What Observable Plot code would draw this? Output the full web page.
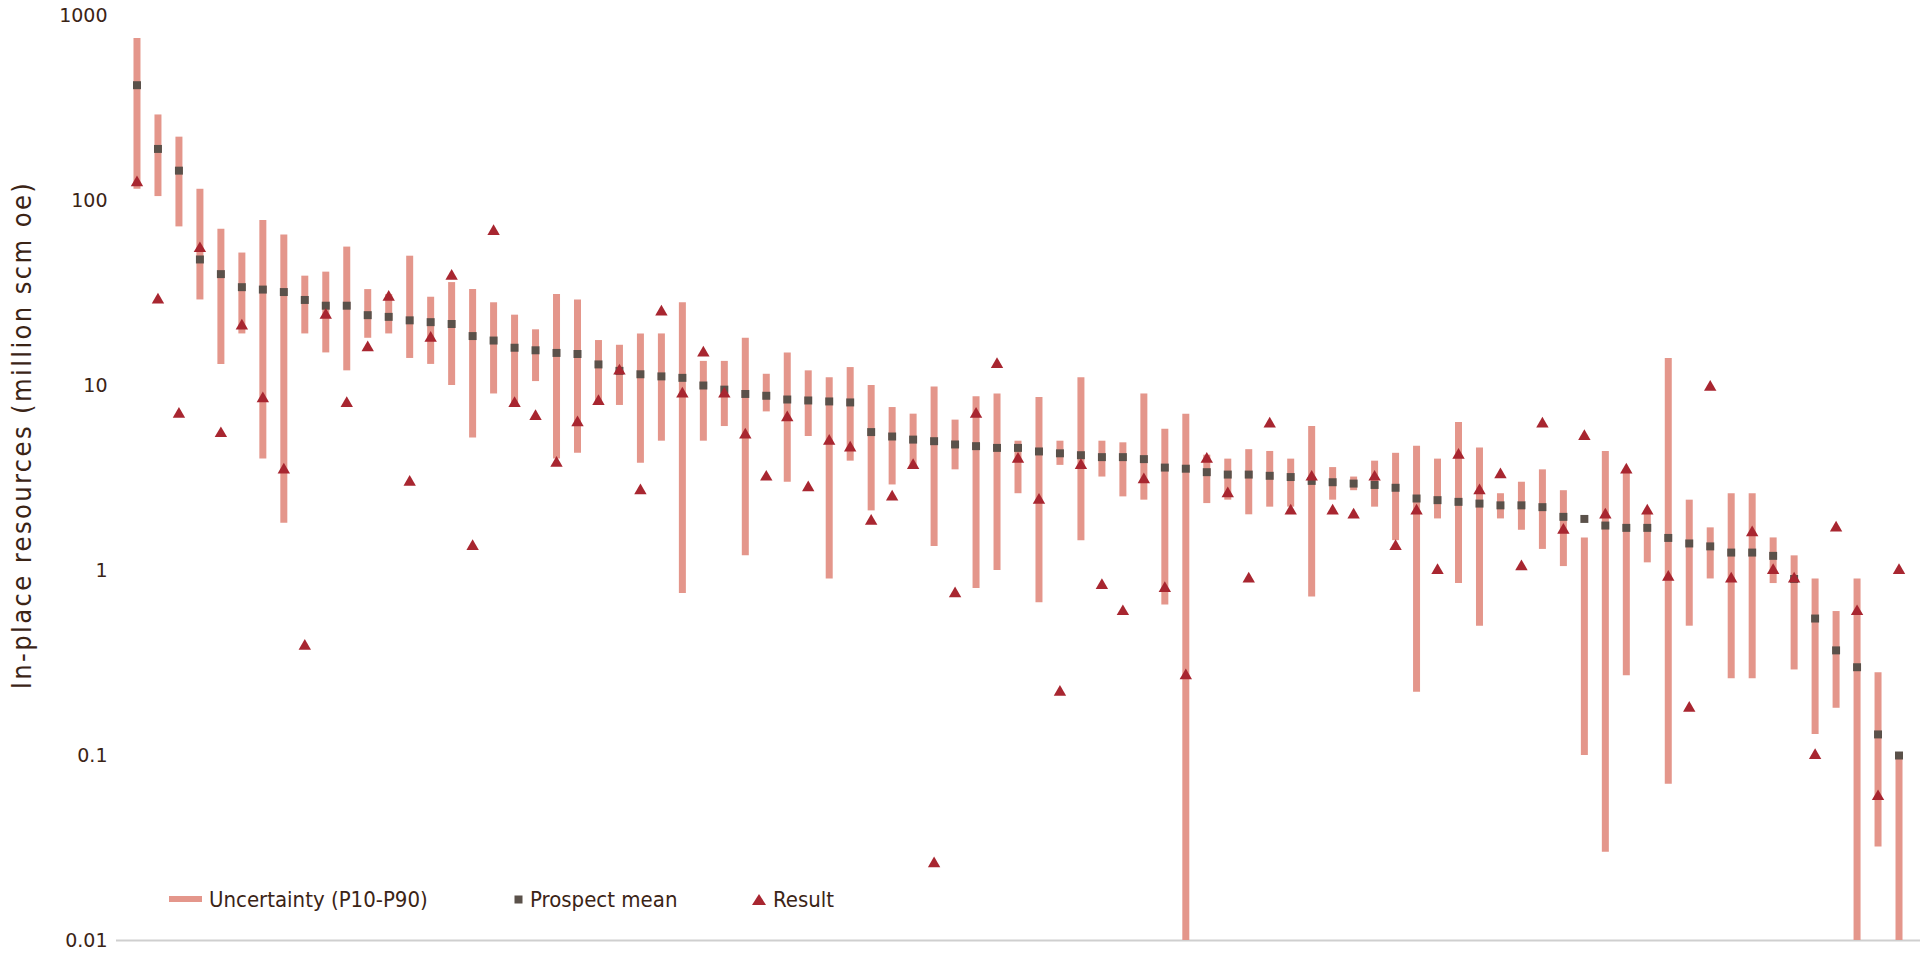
<!DOCTYPE html>
<html>
<head>
<meta charset="utf-8">
<script src="https://cdn.jsdelivr.net/npm/d3@7"></script>
<script src="https://cdn.jsdelivr.net/npm/@observablehq/plot@0.6"></script>
<style>
  html, body { margin: 0; padding: 0; background: #fff; }
  #wrap { position: relative; width: 1920px; height: 963px; overflow: hidden; }
  #ytitle {
    position: absolute; left: 21px; top: 435px;
    transform: translate(-50%, -50%) rotate(-90deg);
    white-space: nowrap; font-family: "Liberation Sans Narrow", "DejaVu Sans Condensed", sans-serif;
    font-size: 27px; letter-spacing: 2.4px; color: #3b2416;
  }
  .leg { position: absolute; top: 886px; height: 26px; display: flex; align-items: center;
    font-family: "Liberation Sans Narrow", "DejaVu Sans Condensed", sans-serif; font-size: 22px; color: #3b2416; white-space: nowrap; }
  .leg svg { margin-right: 7px; }
</style>
</head>
<body>
<div id="wrap">
  <div id="chart"></div>
  <div id="ytitle">In-place resources (million scm oe)</div>
  <div id="legend"></div>
</div>
<script>
// Prospect mean (million scm oe)
const means = [420,190,145,48,40,34,33,32,29,27, 27,24,23.5,22.5,22,21.5,18.5,17.5,16,15.5, 15,14.8,13,12,11.5,11.2,11,10,9.5,9, 8.8,8.4,8.3,8.2,8.1,5.6,5.3,5.1,5,4.8, 4.7,4.6,4.6,4.4,4.3,4.2,4.1,4.1,4,3.6, 3.55,3.4,3.3,3.3,3.25,3.2,3.05,3,2.95,2.9, 2.8,2.45,2.4,2.35,2.3,2.25,2.25,2.2,1.95,1.9, 1.75,1.7,1.7,1.5,1.4,1.35,1.25,1.25,1.2,0.9, 0.55,0.37,0.3,0.13,0.1];
// Uncertainty low end (P90)
const p90 = [115,105,72,29,13,19,4,1.8,19,15, 12,18,19,14,13,10,5.2,9,8,10.5, 4,4.3,8.2,7.8,3.8,5,0.75,5,6,1.2, 7.2,3,5.3,0.9,3.9,2.1,2.9,3.6,1.35,3.5, 0.8,1,2.6,0.67,3.7,1.45,3.2,2.5,2.4,0.65, 0.01,2.3,2.4,2,2.2,2.2,0.72,2.4,2.7,2.2, 1.45,0.22,1.9,0.85,0.5,1.9,1.65,1.3,1.05,0.1, 0.03,0.27,1.1,0.07,0.5,0.9,0.26,0.26,0.85,0.29, 0.13,0.18,0.01,0.032,0.01];
// Uncertainty high end (P10)
const p10 = [750,290,220,115,70,52,78,65,39,41, 56,33,31,50,30,36,33,28,24,20, 31,29,17.5,16.5,19,19,28,13.5,13.5,18, 11.5,15,12,11,12.5,10,7.6,7,9.8,6.5, 8.7,9,5,8.6,5,11,5,4.9,9,5.8, 7,4.2,4,4.5,4.4,4,6,3.6,3.2,3.9, 4.3,4.7,4,6.3,4.6,2.6,3,3.5,2.7,1.5, 4.4,3.5,2.1,14,2.4,1.7,2.6,2.6,1.5,1.2, 0.9,0.6,0.9,0.28,0.1];
// Result
const results = [125,29,7,55,5.5,21,8.5,3.5,0.39,24, 8,16,30,3,18,39,1.35,68,8,6.8, 3.8,6.3,8.2,12,2.7,25,9,15,9,5.4, 3.2,6.7,2.8,5,4.6,1.85,2.5,3.7,0.026,0.75, 7,13,4,2.4,0.22,3.7,0.83,0.6,3.1,0.8, 0.27,4,2.6,0.9,6.2,2.1,3.2,2.1,2,3.2, 1.35,2.1,1,4.2,2.7,3.3,1.05,6.2,1.65,5.3, 2,3.5,2.1,0.92,0.18,9.8,0.9,1.6,1,0.9, 0.1,1.7,0.6,0.06,1];

const yTicks = [0.01, 0.1, 1, 10, 100, 1000];
const yTickLabels = ["0.01", "0.1", "1", "10", "100", "1000"];
const seriesNames = ["Uncertainty (P10-P90)", "Prospect mean", "Result"];

const colors = { bar: "#e4968b", mean: "#5a514a", result: "#a82630", text: "#3b2416", base: "#cfcfcf" };

const data = means.map((m, i) => ({ i, mean: m, low: p90[i], high: p10[i], result: results[i] }));

const chart = Plot.plot({
  width: 1920,
  height: 963,
  marginLeft: 116,
  marginRight: 0,
  marginTop: 15,
  marginBottom: 23,
  style: { fontFamily: "DejaVu Sans, sans-serif", fontSize: "19px", color: colors.text, background: "#fff" },
  x: { type: "point", domain: d3.range(means.length), padding: 0.5, insetLeft: 10, insetRight: 11, axis: null },
  y: {
    type: "log", domain: [0.01, 1000], clamp: true,
    ticks: yTicks, tickFormat: (d) => yTickLabels[yTicks.indexOf(d)],
    tickSize: 0, tickPadding: 9, label: null
  },
  marks: [
    Plot.ruleY([0.01], { stroke: colors.base, strokeWidth: 2 }),
    Plot.ruleX(data, { x: "i", y1: "low", y2: "high", stroke: colors.bar, strokeWidth: 7 }),
    Plot.dot(data, { x: "i", y: "mean", symbol: "square", r: 4.5, fill: colors.mean, stroke: "none" }),
    Plot.dot(data, { x: "i", y: "result", symbol: "triangle", r: 4.6, fill: colors.result, stroke: "none" })
  ]
});
document.getElementById("chart").appendChild(chart);

// Legend (HTML, placed inside the frame near the bottom like the original)
const legend = document.getElementById("legend");
const legendX = [169, 514, 752];
const swatches = [
  `<svg width="33" height="8"><rect x="0" y="1" width="33" height="6" fill="${colors.bar}"/></svg>`,
  `<svg width="9" height="9"><rect x="0.5" y="0.5" width="8" height="8" fill="${colors.mean}"/></svg>`,
  `<svg width="14" height="11"><path d="M7,0 L14,11 L0,11Z" fill="${colors.result}"/></svg>`
];
seriesNames.forEach((name, k) => {
  const d = document.createElement("div");
  d.className = "leg";
  d.style.left = legendX[k] + "px";
  d.innerHTML = swatches[k] + "<span>" + name + "</span>";
  legend.appendChild(d);
});
</script>
</body>
</html>
